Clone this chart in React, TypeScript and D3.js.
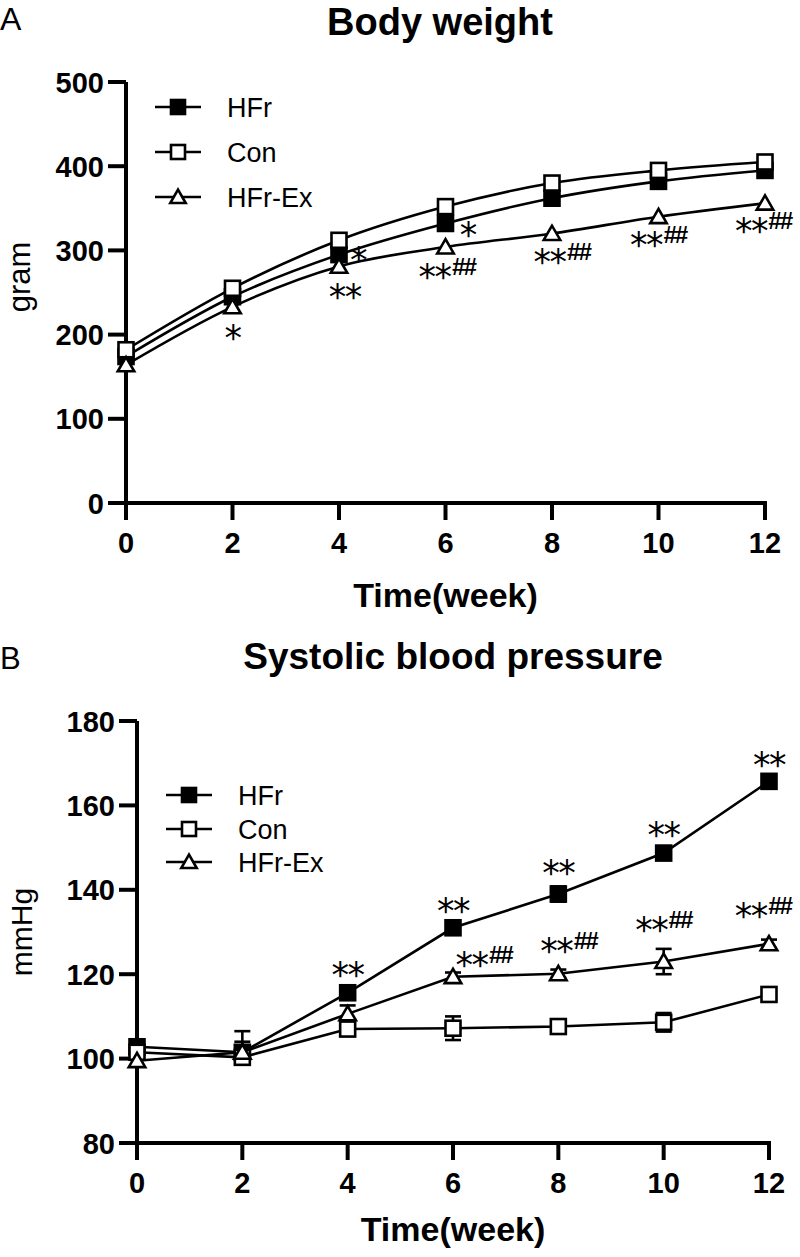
import React from "react";
import * as d3 from "d3";

const weeks = [0, 2, 4, 6, 8, 10, 12];
const seriesNames = ["HFr", "Con", "HFr-Ex"];

// Panel A: body weight (gram)
const bwHFr = [174, 245, 295, 332, 362, 382, 395];
const bwCon = [182, 255, 312, 352, 380, 395, 405];
const bwEx = [164, 233, 281, 304, 320, 340, 356];
const bwTicks = [0, 100, 200, 300, 400, 500];

// Panel B: systolic blood pressure (mmHg)
const sbpHFr = [102.8, 101.5, 115.6, 131, 139, 148.7, 165.7];
const sbpCon = [101.5, 100.3, 107, 107.2, 107.6, 108.6, 115.2];
const sbpEx = [99.5, 101.5, 110.6, 119.4, 120.1, 123, 127.2];
// error bars (upper / lower extent)
const sbpErrUpHFr = [1.5, 5.0, 1.2, 1.5, 1.8, 1.0, 1.0];
const sbpErrDnHFr = [1.5, 0.5, 1.2, 1.5, 1.8, 1.0, 1.0];
const sbpErrUpCon = [1.2, 1.0, 1.0, 2.8, 1.0, 2.2, 1.0];
const sbpErrDnCon = [1.2, 1.0, 1.0, 2.8, 1.0, 2.2, 1.0];
const sbpErrUpEx = [1.2, 2.5, 2.0, 1.0, 1.0, 3.0, 1.0];
const sbpErrDnEx = [1.2, 1.0, 2.0, 1.0, 1.0, 3.0, 1.0];
const sbpTicks = [80, 100, 120, 140, 160, 180];

const xTicks = [0, 2, 4, 6, 8, 10, 12];

// significance annotations, in data coordinates [week, value, stars, hashes]
const annA: [number, number, string, string][] = [
  [2, 205.5, "*", ""],
  [4.36, 298, "*", ""],
  [4.11, 254, "**", ""],
  [6.42, 328, "*", ""],
  [6.06, 278, "**", "##"],
  [8.22, 295.7, "**", "##"],
  [10.03, 316, "**", "##"],
  [12.0, 332.5, "**", "##"],
];
const annB: [number, number, string, string][] = [
  [4, 121.8, "**", ""],
  [6, 136.9, "**", ""],
  [8, 145.9, "**", ""],
  [10, 154.9, "**", ""],
  [12, 171.5, "**", ""],
  [6.62, 124.1, "**", "##"],
  [8.23, 127.5, "**", "##"],
  [10.03, 132.4, "**", "##"],
  [11.92, 135.7, "**", "##"],
];

const SANS = "'Liberation Sans', Arial, Helvetica, sans-serif";
const STAR = "'DejaVu Sans', sans-serif";

function Marker({ kind, x, y, s }: { kind: number; x: number; y: number; s: number }) {
  if (kind === 2) {
    const h = s * 0.95;
    const pts = `${x},${y - h * 0.55} ${x - s * 0.55},${y + h * 0.45} ${x + s * 0.55},${y + h * 0.45}`;
    return <polygon points={pts} fill="#fff" stroke="#000" strokeWidth={2.6} strokeLinejoin="miter" />;
  }
  return (
    <rect
      x={x - s / 2}
      y={y - s / 2}
      width={s}
      height={s}
      fill={kind === 0 ? "#000" : "#fff"}
      stroke="#000"
      strokeWidth={2.6}
    />
  );
}

function Annot({ x, y, stars, hashes }: { x: number; y: number; stars: string; hashes: string }) {
  const fs = 35;
  const starW = stars.length * 0.5 * fs * 0.92;
  const hashW = hashes ? 28 : 0;
  const total = starW + hashW;
  const x0 = x - total / 2;
  return (
    <g>
      <text x={x0} y={y + fs * 0.58} fontFamily={STAR} fontSize={fs} letterSpacing={-1.5}>
        {stars}
      </text>
      {hashes && (
        <text
          x={x0 + starW + 1}
          y={y + 6}
          fontFamily={SANS}
          fontSize={24}
          fontWeight="bold"
          fontStyle="italic"
          letterSpacing={-2}
        >
          {hashes}
        </text>
      )}
    </g>
  );
}

function Panel(props: {
  x: d3.ScaleLinear<number, number>;
  y: d3.ScaleLinear<number, number>;
  yTicks: number[];
  series: number[][];
  errUp?: number[][];
  errDn?: number[][];
  smooth: boolean;
  ann: [number, number, string, string][];
  legendX: number;
  legendY: number[];
  markerSize: number;
  title: string;
  titleX: number;
  titleY: number;
  titleSize: number;
  yTitle: string;
  yTitleX: number;
  yTitleY: number;
  yTitleSize: number;
  xTitleY: number;
}) {
  const { x, y } = props;
  const [x0, x1] = x.range();
  const [yb, yt] = y.range();
  const line = d3
    .line<number>()
    .x((_, i) => x(weeks[i]))
    .y((d) => y(d))
    .curve(props.smooth ? d3.curveMonotoneX : d3.curveLinear);
  const drawOrder = [0, 1, 2];
  return (
    <g>
      <text
        x={props.titleX}
        y={props.titleY}
        textAnchor="middle"
        fontFamily={SANS}
        fontWeight="bold"
        fontSize={props.titleSize}
      >
        {props.title}
      </text>
      <text
        transform={`translate(${props.yTitleX},${props.yTitleY}) rotate(-90)`}
        textAnchor="middle"
        fontFamily={SANS}
        fontSize={props.yTitleSize}
      >
        {props.yTitle}
      </text>
      <text x={(x0 + x1) / 2} y={props.xTitleY} textAnchor="middle" fontFamily={SANS} fontWeight="bold" fontSize={34}>
        Time(week)
      </text>
      <line x1={x0} x2={x0} y1={yt} y2={yb} stroke="#000" strokeWidth={4} />
      <line x1={x0 - 2} x2={x1 + 2} y1={yb} y2={yb} stroke="#000" strokeWidth={4} />
      {props.yTicks.map((t) => (
        <g key={"yt" + t}>
          <line x1={x0 - 18} x2={x0} y1={y(t)} y2={y(t)} stroke="#000" strokeWidth={4} />
          <text x={x0 - 22} y={y(t) + 10.5} textAnchor="end" fontFamily={SANS} fontWeight="bold" fontSize={29}>
            {t}
          </text>
        </g>
      ))}
      {xTicks.map((t) => (
        <g key={"xt" + t}>
          <line x1={x(t)} x2={x(t)} y1={yb} y2={yb + 17} stroke="#000" strokeWidth={4} />
          <text x={x(t)} y={yb + 50} textAnchor="middle" fontFamily={SANS} fontWeight="bold" fontSize={29}>
            {t}
          </text>
        </g>
      ))}
      {props.series.map((s, k) => (
        <path key={"l" + k} d={line(s) || ""} fill="none" stroke="#000" strokeWidth={2.6} />
      ))}
      {props.errUp &&
        props.errDn &&
        props.errUp.map((e, k) =>
          e.map((v, i) => {
            const cx = x(weeks[i]);
            const top = y(props.series[k][i] + v);
            const bot = y(props.series[k][i] - props.errDn![k][i]);
            return (
              <g key={`e${k}-${i}`}>
                <line x1={cx} x2={cx} y1={top} y2={bot} stroke="#000" strokeWidth={2.6} />
                <line x1={cx - 8} x2={cx + 8} y1={top} y2={top} stroke="#000" strokeWidth={2.6} />
                <line x1={cx - 8} x2={cx + 8} y1={bot} y2={bot} stroke="#000" strokeWidth={2.6} />
              </g>
            );
          })
        )}
      {drawOrder.map((k) =>
        props.series[k].map((v, i) => (
          <Marker key={`m${k}-${i}`} kind={k} x={x(weeks[i])} y={y(v)} s={props.markerSize} />
        ))
      )}
      {props.ann.map((a, i) => (
        <Annot key={"a" + i} x={x(a[0])} y={y(a[1])} stars={a[2]} hashes={a[3]} />
      ))}
      {seriesNames.map((n, k) => (
        <g key={"lg" + k}>
          <line
            x1={props.legendX - 23}
            x2={props.legendX + 23}
            y1={props.legendY[k]}
            y2={props.legendY[k]}
            stroke="#000"
            strokeWidth={2.6}
          />
          <Marker kind={k} x={props.legendX} y={props.legendY[k]} s={14} />
          <text x={props.legendX + 49} y={props.legendY[k] + 9.5} fontFamily={SANS} fontSize={27}>
            {n}
          </text>
        </g>
      ))}
    </g>
  );
}

export default function App() {
  const xA = d3.scaleLinear().domain([0, 12]).range([126, 765]);
  const yA = d3.scaleLinear().domain([0, 500]).range([503, 82]);
  const xB = d3.scaleLinear().domain([0, 12]).range([137, 769]);
  const yB = d3.scaleLinear().domain([80, 180]).range([1143, 721]);
  return (
    <div style={{ position: "absolute", left: 0, top: 0, width: 800, height: 1257, background: "#fff" }}>
      <svg width={800} height={1257} style={{ display: "block" }}>
        <rect width={800} height={1257} fill="#fff" />
        <text x={0} y={30} fontFamily={SANS} fontSize={32}>
          A
        </text>
        <text x={0} y={669} fontFamily={SANS} fontSize={31}>
          B
        </text>
        <Panel
          x={xA}
          y={yA}
          yTicks={bwTicks}
          series={[bwHFr, bwCon, bwEx]}
          smooth={true}
          ann={annA}
          legendX={178}
          legendY={[107, 152, 197]}
          markerSize={15}
          title="Body weight"
          titleX={440}
          titleY={35}
          titleSize={38}
          yTitle="gram"
          yTitleX={30}
          yTitleY={277}
          yTitleSize={31}
          xTitleY={607}
        />
        <Panel
          x={xB}
          y={yB}
          yTicks={sbpTicks}
          series={[sbpHFr, sbpCon, sbpEx]}
          errUp={[sbpErrUpHFr, sbpErrUpCon, sbpErrUpEx]}
          errDn={[sbpErrDnHFr, sbpErrDnCon, sbpErrDnEx]}
          smooth={false}
          ann={annB}
          legendX={189}
          legendY={[795, 829, 862]}
          markerSize={15}
          title="Systolic blood pressure"
          titleX={453}
          titleY={669}
          titleSize={37}
          yTitle="mmHg"
          yTitleX={32}
          yTitleY={932}
          yTitleSize={30}
          xTitleY={1241}
        />
      </svg>
    </div>
  );
}
